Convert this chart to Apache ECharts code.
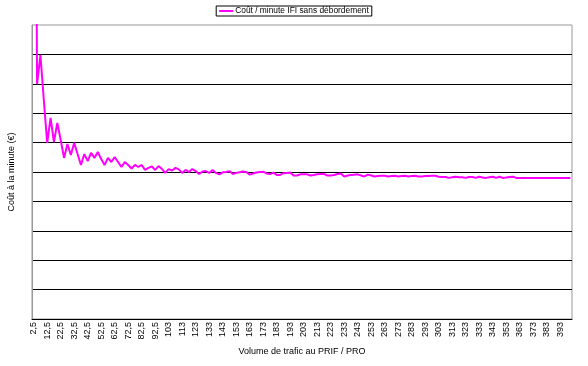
<!DOCTYPE html>
<html>
<head>
<meta charset="utf-8">
<script src="https://cdn.jsdelivr.net/npm/echarts@6/dist/echarts.min.js"></script>
<style>
  html, body { margin: 0; padding: 0; background: #fff; }
  #main { width: 588px; height: 366px; }
</style>
</head>
<body>
<div id="main"></div>
<script>
// volume de trafic (abscisses)
var categories = [
  2.5, 5, 7.5, 10, 12.5, 15, 17.5, 20, 22.5, 25, 27.5, 30, 32.5, 35, 37.5, 40, 42.5, 45, 47.5, 50,
  52.5, 55, 57.5, 60, 62.5, 65, 67.5, 70, 72.5, 75, 77.5, 80, 82.5, 85, 87.5, 90, 92.5, 95, 97.5, 100,
  102.5, 105, 107.5, 110, 112.5, 115, 117.5, 120, 122.5, 125, 127.5, 130, 132.5, 135, 137.5, 140, 142.5, 145, 147.5, 150,
  152.5, 155, 157.5, 160, 162.5, 165, 167.5, 170, 172.5, 175, 177.5, 180, 182.5, 185, 187.5, 190, 192.5, 195, 197.5, 200,
  202.5, 205, 207.5, 210, 212.5, 215, 217.5, 220, 222.5, 225, 227.5, 230, 232.5, 235, 237.5, 240, 242.5, 245, 247.5, 250,
  252.5, 255, 257.5, 260, 262.5, 265, 267.5, 270, 272.5, 275, 277.5, 280, 282.5, 285, 287.5, 290, 292.5, 295, 297.5, 300,
  302.5, 305, 307.5, 310, 312.5, 315, 317.5, 320, 322.5, 325, 327.5, 330, 332.5, 335, 337.5, 340, 342.5, 345, 347.5, 350,
  352.5, 355, 357.5, 360, 362.5, 365, 367.5, 370, 372.5, 375, 377.5, 380, 382.5, 385, 387.5, 390, 392.5, 395, 397.5, 400
];

// libellés affichés (un sur quatre)
var tickLabels = [
  '2,5', '12,5', '22,5', '32,5', '42,5', '52,5', '62,5', '72,5', '82,5', '92,5',
  '103', '113', '123', '133', '143', '153', '163', '173', '183', '193',
  '203', '213', '223', '233', '243', '253', '263', '273', '283', '293',
  '303', '313', '323', '333', '343', '353', '363', '373', '383', '393'
];

// coût / minute IFI sans débordement
var coutMinute = [
  3.0, 0.799, 0.898, 0.745, 0.599, 0.684, 0.602, 0.667, 0.609, 0.548,
  0.595, 0.558, 0.599, 0.561, 0.524, 0.561, 0.537, 0.565, 0.548, 0.568,
  0.544, 0.524, 0.548, 0.534, 0.551, 0.534, 0.517, 0.534, 0.524, 0.512,
  0.524, 0.517, 0.524, 0.507, 0.514, 0.519, 0.507, 0.520, 0.510, 0.497,
  0.510, 0.505, 0.514, 0.509, 0.497, 0.507, 0.500, 0.510, 0.503, 0.493,
  0.502, 0.503, 0.497, 0.507, 0.497, 0.492, 0.499, 0.500, 0.503, 0.493,
  0.497, 0.499, 0.502, 0.500, 0.491, 0.495, 0.498, 0.500, 0.501, 0.495,
  0.493, 0.498, 0.490, 0.490, 0.496, 0.497, 0.498, 0.488, 0.488, 0.492,
  0.492, 0.492, 0.488, 0.490, 0.492, 0.493, 0.494, 0.488, 0.488, 0.490,
  0.493, 0.495, 0.485, 0.488, 0.490, 0.491, 0.492, 0.488, 0.485, 0.491,
  0.488, 0.485, 0.486, 0.487, 0.487, 0.485, 0.486, 0.487, 0.485, 0.486,
  0.487, 0.485, 0.486, 0.487, 0.485, 0.485, 0.486, 0.486, 0.487, 0.487,
  0.484, 0.483, 0.483, 0.480, 0.482, 0.484, 0.482, 0.482, 0.480, 0.483,
  0.483, 0.480, 0.484, 0.481, 0.480, 0.482, 0.484, 0.480, 0.484, 0.480,
  0.481, 0.483, 0.484, 0.480, 0.480, 0.480, 0.480, 0.480, 0.480, 0.480,
  0.480, 0.480, 0.480, 0.480, 0.480, 0.480, 0.480, 0.480, 0.480, 0.480
];

var font = '"Liberation Sans", Arial, sans-serif';

var myChart = echarts.init(document.getElementById('main'));

var option = {
  animation: false,
  textStyle: { fontFamily: font, color: '#000' },
  legend: {
    top: 6,
    left: 'center',
    data: [{ name: 'Coût / minute IFI sans débordement', icon: 'rect' }],
    itemWidth: 14,
    itemHeight: 2,
    itemGap: 4,
    padding: [1, 3, 1, 3],
    borderColor: '#000',
    borderWidth: 1,
    textStyle: { fontFamily: font, fontSize: 8.4, color: '#000', padding: [0, 0, 0, -3] }
  },
  grid: {
    left: 32,
    right: 16,
    top: 25,
    bottom: 47,
    show: true,
    borderColor: '#999',
    borderWidth: 1,
    outerBoundsMode: 'none'
  },
  xAxis: {
    type: 'category',
    data: categories,
    boundaryGap: true,
    name: 'Volume de trafic au PRIF / PRO',
    nameLocation: 'middle',
    nameGap: 25,
    nameTextStyle: { fontFamily: font, fontSize: 9, color: '#000' },
    axisLine: { lineStyle: { color: '#000', width: 1 } },
    axisTick: { interval: 3, length: 4, lineStyle: { color: '#000' } },
    axisLabel: {
      interval: 3,
      rotate: 90,
      margin: 3,
      fontFamily: font,
      fontSize: 9,
      color: '#000',
      formatter: function (value, index) {
        return tickLabels[Math.round(index / 4)];
      }
    },
    splitLine: { show: false }
  },
  yAxis: {
    type: 'value',
    min: 0,
    max: 1,
    interval: 0.1,
    name: 'Coût à la minute (€)',
    nameLocation: 'middle',
    nameGap: 16,
    nameTextStyle: { fontFamily: font, fontSize: 9, color: '#000' },
    axisLine: { show: true, lineStyle: { color: '#999' } },
    axisTick: { show: false },
    axisLabel: { show: false },
    splitLine: { show: true, showMaxLine: false, lineStyle: { color: '#000', width: 1 } }
  },
  series: [
    {
      name: 'Coût / minute IFI sans débordement',
      type: 'line',
      data: coutMinute,
      symbol: 'none',
      clip: true,
      color: '#FF00FF',
      lineStyle: { color: '#FF00FF', width: 2 }
    }
  ]
};

myChart.setOption(option);
</script>
</body>
</html>
